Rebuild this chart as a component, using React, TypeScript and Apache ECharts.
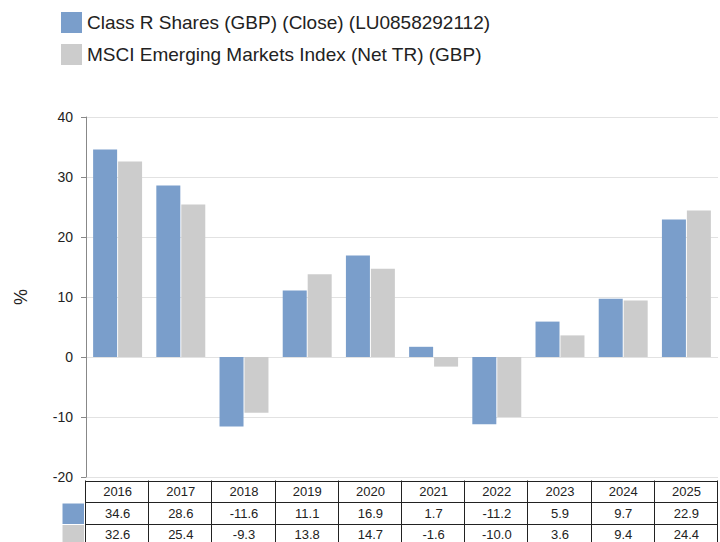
import React, { useEffect, useRef } from "react";
import * as echarts from "echarts";

const years = ["2016", "2017", "2018", "2019", "2020", "2021", "2022", "2023", "2024", "2025"];
const classR = [34.6, 28.6, -11.6, 11.1, 16.9, 1.7, -11.2, 5.9, 9.7, 22.9];
const msci = [32.6, 25.4, -9.3, 13.8, 14.7, -1.6, -10.0, 3.6, 9.4, 24.4];
const seriesNames = [
  "Class R Shares (GBP) (Close) (LU0858292112)",
  "MSCI Emerging Markets Index (Net TR) (GBP)",
];
const colors = ["#7a9ecb", "#cccccc"];

const W = 720;
const H = 542;
const GRID_LEFT = 86;
const GRID_RIGHT = 2;
const GRID_TOP = 117;
const GRID_BOTTOM = 65;
const FONT = "Liberation Sans, Arial, sans-serif";

export default function App() {
  const ref = useRef<HTMLDivElement>(null);
  useEffect(() => {
    if (!ref.current) return;
    const chart = echarts.init(ref.current, undefined, { renderer: "svg" });

    const plotRight = W - GRID_RIGHT;
    const colW = (plotRight - GRID_LEFT) / years.length;
    const tableTop = H - GRID_BOTTOM + 3.5;
    const rowH = 21.5;
    const rows = [years, classR.map((v) => v.toFixed(1)), msci.map((v) => v.toFixed(1))];
    const graphics: any[] = [];
    const lineStyle = { stroke: "#222", lineWidth: 1 };
    for (let r = 0; r <= rows.length; r++) {
      const y = Math.round(tableTop + r * rowH) + 0.5;
      graphics.push({ type: "line", shape: { x1: GRID_LEFT, y1: y, x2: plotRight, y2: y }, style: lineStyle });
    }
    for (let c = 0; c <= years.length; c++) {
      const x = Math.round(GRID_LEFT + c * colW) - 0.5;
      graphics.push({
        type: "line",
        shape: { x1: x, y1: tableTop, x2: x, y2: tableTop + rows.length * rowH },
        style: lineStyle,
      });
    }
    rows.forEach((row, r) => {
      row.forEach((txt, c) => {
        graphics.push({
          type: "text",
          x: GRID_LEFT + (c + 0.5) * colW,
          y: tableTop + (r + 0.5) * rowH + 0.5,
          style: {
            text: txt,
            fill: "#222",
            fontSize: 13,
            fontFamily: FONT,
            align: "center",
            verticalAlign: "middle",
          },
        });
      });
    });
    colors.forEach((col, i) => {
      graphics.push({
        type: "rect",
        shape: { x: GRID_LEFT - 23.5, y: tableTop + (i + 1) * rowH + 1.5, width: 21.5, height: rowH - 1 },
        style: { fill: col },
      });
    });

    chart.setOption({
      animation: false,
      legend: {
        orient: "vertical",
        left: 56,
        top: 7,
        itemWidth: 21,
        itemHeight: 21,
        itemGap: 11,
        icon: "rect",
        textStyle: { fontFamily: FONT, fontSize: 19, color: "#222", lineHeight: 21 },
        data: seriesNames,
      },
      grid: { left: GRID_LEFT, right: GRID_RIGHT, top: GRID_TOP, bottom: GRID_BOTTOM },
      xAxis: {
        type: "category",
        data: years,
        axisLine: { show: false },
        axisTick: { show: false },
        axisLabel: { show: false },
      },
      yAxis: {
        type: "value",
        min: -20,
        max: 40,
        interval: 10,
        name: "%",
        nameLocation: "middle",
        nameGap: 56,
        nameRotate: 90,
        nameTextStyle: { fontFamily: FONT, fontSize: 18, color: "#222" },
        axisLine: { show: true, lineStyle: { color: "#888" } },
        axisTick: { show: true, length: 5, lineStyle: { color: "#888" } },
        axisLabel: { fontFamily: FONT, fontSize: 14, color: "#222", margin: 13 },
        splitLine: { lineStyle: { color: "#e2e2e2" } },
      },
      series: [
        {
          name: seriesNames[0],
          type: "bar",
          data: classR,
          itemStyle: { color: colors[0] },
          barWidth: 24,
          barGap: "4%",
        },
        {
          name: seriesNames[1],
          type: "bar",
          data: msci,
          itemStyle: { color: colors[1] },
          barWidth: 24,
          barGap: "4%",
        },
      ],
      graphic: graphics,
    });
    return () => chart.dispose();
  }, []);
  return <div ref={ref} style={{ position: "absolute", left: 0, top: 0, width: W, height: H }} />;
}
